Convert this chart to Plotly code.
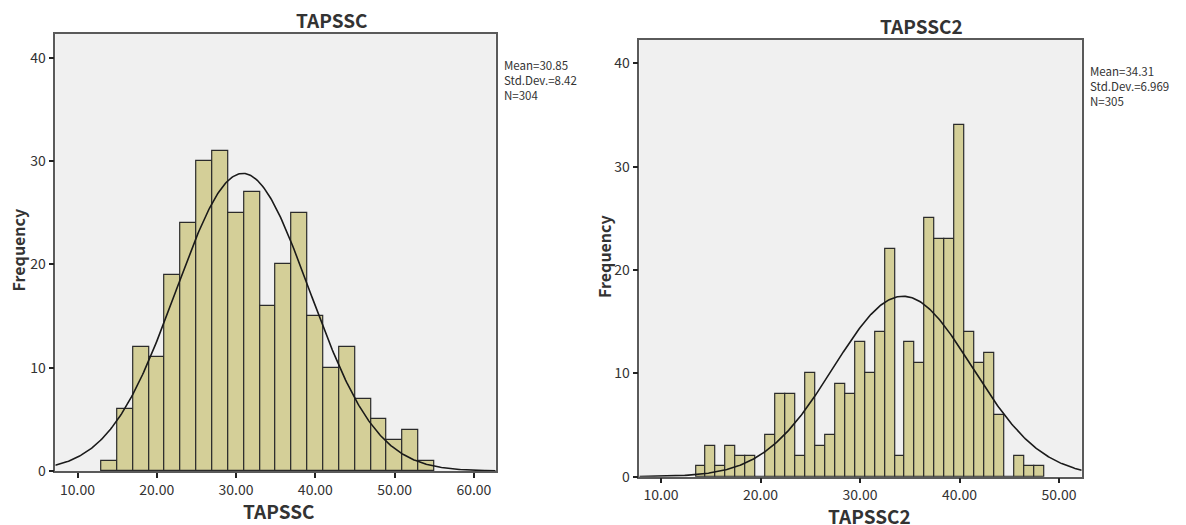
import numpy as np
import plotly.graph_objects as go

# ---------------- data ----------------
# Left histogram (TAPSSC): bin centres (bin width 2) and counts
tap1_centers = [14, 16, 18, 20, 22, 24, 26, 28, 30, 32, 34, 36, 38, 40, 42, 44, 46, 48, 50, 52, 54]
tap1_counts = [1, 6, 12, 11, 19, 24, 30, 31, 25, 27, 16, 20, 25, 15, 10, 12, 7, 5, 3, 4, 1]
tap1_binwidth = 2
tap1_mean, tap1_sd, tap1_n = 30.85, 8.42, 304

# Right histogram (TAPSSC2): bin centres (bin width 1) and counts
tap2_centers = [14, 15, 16, 17, 18, 19, 20, 21, 22, 23, 24, 25, 26, 27, 28, 29, 30, 31,
                32, 33, 34, 35, 36, 37, 38, 39, 40, 41, 42, 43, 44, 45, 46, 47, 48]
tap2_counts = [1, 3, 1, 3, 2, 2, 0, 4, 8, 8, 2, 10, 3, 4, 9, 8, 13, 10,
               14, 22, 2, 13, 11, 25, 23, 23, 34, 14, 11, 12, 6, 0, 2, 1, 1]
tap2_binwidth = 1
tap2_mean, tap2_sd, tap2_n = 34.31, 6.969, 305

x_ticks_left = [10, 20, 30, 40, 50, 60]
x_ticks_right = [10, 20, 30, 40, 50]
y_ticks = [0, 10, 20, 30, 40]

# ---------------- layout helpers ----------------
W, H = 1186, 525
def px(x):
    return x / W
def py(y):
    return 1 - y / H

FONT = "Noto Sans CJK SC"
BAR_FILL = "#D4CF98"
BAR_LINE = "#2b2b2b"
FRAME = "#5a5a5a"
TEXT = "#333333"

X1_RANGE = [7.2, 62.75]
X2_RANGE = [7.82, 52.28]

def normal_curve(mean, sd, n, bw, x0, x1):
    xs = np.linspace(x0, x1, 400)
    ys = n * bw / (sd * np.sqrt(2 * np.pi)) * np.exp(-0.5 * ((xs - mean) / sd) ** 2)
    return xs, ys

fig = go.Figure()

fig.add_trace(go.Bar(x=tap1_centers, y=tap1_counts, width=tap1_binwidth,
                     marker=dict(color=BAR_FILL, line=dict(color=BAR_LINE, width=1.2)),
                     xaxis="x", yaxis="y", showlegend=False))
cx, cy = normal_curve(tap1_mean, tap1_sd, tap1_n, tap1_binwidth, *X1_RANGE)
fig.add_trace(go.Scatter(x=cx, y=cy, mode="lines", line=dict(color="#1a1a1a", width=1.6),
                         xaxis="x", yaxis="y", showlegend=False))

fig.add_trace(go.Bar(x=tap2_centers, y=tap2_counts, width=tap2_binwidth,
                     marker=dict(color=BAR_FILL, line=dict(color=BAR_LINE, width=1.2)),
                     xaxis="x2", yaxis="y2", showlegend=False))
cx2, cy2 = normal_curve(tap2_mean, tap2_sd, tap2_n, tap2_binwidth, *X2_RANGE)
fig.add_trace(go.Scatter(x=cx2, y=cy2, mode="lines", line=dict(color="#1a1a1a", width=1.6),
                         xaxis="x2", yaxis="y2", showlegend=False))

axis_common = dict(showline=True, linecolor=FRAME, linewidth=1.5, mirror=True,
                   ticks="outside", ticklen=5, tickcolor="#222", tickwidth=1.5,
                   showgrid=False, zeroline=False, automargin=False,
                   tickfont=dict(family=FONT, size=14, color=TEXT))

fig.update_layout(
    template="none",
    width=W, height=H,
    margin=dict(l=0, r=0, t=0, b=0, pad=0),
    paper_bgcolor="white",
    plot_bgcolor="#F0F0F0",
    bargap=0,
    xaxis=dict(domain=[px(55.3), px(495.7)], range=X1_RANGE, anchor="y",
               tickvals=x_ticks_left, tickformat=".2f", **axis_common),
    yaxis=dict(domain=[py(471), py(34)], range=[0, 42.3], anchor="x",
               tickvals=y_ticks, **axis_common),
    xaxis2=dict(domain=[px(639.3), px(1081.7)], range=X2_RANGE, anchor="y2",
                tickvals=x_ticks_right, tickformat=".2f", **axis_common),
    yaxis2=dict(domain=[py(476.7), py(40)], range=[0, 42.25], anchor="x2",
                tickvals=y_ticks, **axis_common),
)

def ann(text, x, y, size, bold=False, xanchor="center", yanchor="middle", angle=0,
        align="center", height=None):
    t = f"<b>{text}</b>" if bold else text
    kw = {}
    if height is not None:
        kw["height"] = height
    fig.add_annotation(text=t, x=px(x), y=py(y), xref="paper", yref="paper",
                       showarrow=False, xanchor=xanchor, yanchor=yanchor, textangle=angle,
                       align=align, font=dict(family=FONT, size=size, color=TEXT), **kw)

# titles
ann("TAPSSC", 332, 19, 19, bold=True)
ann("TAPSSC2", 921, 25, 19, bold=True)
# x-axis titles (compact boxes so they sit right under the tick labels)
ann("TAPSSC", 278, 510, 19, bold=True, height=20)
ann("TAPSSC2", 869, 514.5, 19, bold=True, height=20)
# y-axis titles
ann("Frequency", 17.5, 250, 16, bold=True, angle=-90)
ann("Frequency", 604, 256, 16, bold=True, angle=-90)
# stats text
stats1 = "<br>".join([f"Mean={tap1_mean:.2f}", f"Std.Dev.={tap1_sd:.2f}", f"N={tap1_n}"])
stats2 = "<br>".join([f"Mean={tap2_mean:.2f}", f"Std.Dev.={tap2_sd:.3f}", f"N={tap2_n}"])
ann(stats1, 501.5, 55, 11.5, xanchor="left", yanchor="top", align="left")
ann(stats2, 1087.5, 61, 11.5, xanchor="left", yanchor="top", align="left")

fig.write_html("out.html", config={"displayModeBar": False},
               post_script="document.body.style.margin='0px';")
